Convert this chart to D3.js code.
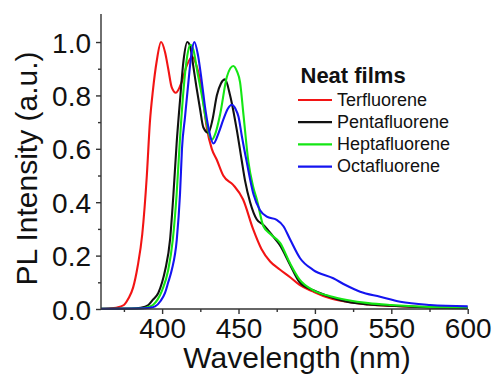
<!DOCTYPE html>
<html><head><meta charset="utf-8">
<script src="https://cdn.jsdelivr.net/npm/d3@7"></script>
<style>body{margin:0;background:#fff}svg{display:block}</style>
</head><body>
<svg id="c" width="498" height="381"></svg>
<script>
const seriesNames = ["Terfluorene","Pentafluorene","Heptafluorene","Octafluorene"];
const seriesColors = ["#f21414","#111111","#14e614","#1414f0"];
const terWl = [360,365,370,375,378,381,384,387,390,392,394,396.5,399.3,402,404,406.3,409,412.8,416,419.8,422.6,426,429.2,432.5,435.7,440,446.5,453,459.5,465,470.7,477,484,490,499,510,520,530,545,560,580,600];
const terPL = [0,0.002,0.005,0.015,0.04,0.08,0.16,0.28,0.5,0.7,0.82,0.93,1.0,0.96,0.9,0.83,0.81,0.85,0.91,0.945,0.91,0.82,0.68,0.6,0.56,0.5,0.465,0.41,0.3,0.225,0.178,0.148,0.118,0.09,0.065,0.04,0.028,0.02,0.013,0.01,0.006,0.005];
const pentaWl = [360,380,386,391,394,397.5,400,402,405.2,407.4,409.5,411.7,414,416.5,418.5,420.4,422.5,424.8,427,430.3,433,435.8,438.5,441.2,444.5,448.9,452,454.3,457.6,462,466.3,472.9,477,483.8,490,499,510,521,535,550,575,600];
const pentaPL = [0.001,0.002,0.005,0.015,0.035,0.06,0.1,0.146,0.26,0.43,0.62,0.78,0.93,1.0,0.98,0.91,0.83,0.75,0.68,0.66,0.71,0.8,0.845,0.86,0.8,0.67,0.56,0.48,0.4,0.335,0.315,0.27,0.24,0.165,0.1,0.07,0.045,0.027,0.017,0.012,0.006,0.003];
const heptaWl = [360,385,390,394,397,400,404,407,409.5,411.5,414,416.5,418.5,420.5,423,426,429,432.5,435,438,442.4,446.6,449,451,453.2,456.5,459.5,462,466.3,471,477.2,483.8,490,499,510,521,535,550,575,600];
const heptaPL = [0.001,0.002,0.006,0.015,0.035,0.07,0.146,0.26,0.43,0.62,0.82,0.95,0.99,0.97,0.89,0.8,0.7,0.634,0.66,0.73,0.87,0.91,0.89,0.85,0.73,0.55,0.46,0.41,0.31,0.28,0.248,0.17,0.11,0.07,0.048,0.034,0.022,0.015,0.008,0.005];
const octaWl = [360,385,392,395.4,399,401.9,404,406.3,409.6,411.7,413,415,417.2,419.3,421.1,423.5,426,428,430.3,433.6,437,440.1,443,445.6,448,450,452.1,455.4,459.8,464.1,468.5,475,479.4,483.8,490.3,499,512,520,529.6,542.7,555.8,575.5,600];
const octaPL = [0.001,0.002,0.005,0.01,0.03,0.06,0.1,0.146,0.26,0.43,0.6,0.72,0.85,0.96,1.0,0.95,0.85,0.76,0.68,0.62,0.66,0.71,0.75,0.765,0.75,0.72,0.65,0.55,0.43,0.37,0.346,0.334,0.31,0.26,0.19,0.146,0.115,0.09,0.065,0.046,0.027,0.015,0.01];
const xTicks = [400,450,500,550,600];
const yTicks = [0,0.2,0.4,0.6,0.8,1.0];
const legendTitle = "Neat films";
const xTitle = "Wavelength (nm)";
const yTitle = "PL Intensity (a.u.)";

const wls = [terWl,pentaWl,heptaWl,octaWl];
const pls = [terPL,pentaPL,heptaPL,octaPL];

const svg = d3.select("#c");
const L=101, R=467.7, T=14, B=309;
const x = d3.scaleLinear().domain([360,600]).range([L,R]);
const y = d3.scaleLinear().domain([0,1.105]).range([B,T]);
const font = "Liberation Sans, Arial, sans-serif";
const axisColor = "#333";

// curves
const line = d3.line().x(d=>x(d[0])).y(d=>y(d[1])).curve(d3.curveMonotoneX);
wls.forEach((w,i)=>{
  const data = w.map((v,j)=>[v,pls[i][j]]);
  svg.append("path").attr("d",line(data)).attr("fill","none")
    .attr("stroke",seriesColors[i]).attr("stroke-width",2.1).attr("stroke-linejoin","round");
});

// x axis
const xa = svg.append("g").attr("transform",`translate(0,${B})`);
xa.call(d3.axisBottom(x).tickValues(d3.range(375,601,25)).tickSize(3).tickFormat(""));
xa.call(g=>g.selectAll(".tick").filter(d=>xTicks.includes(d)).select("line").attr("y2",5));
xa.selectAll(".tick").filter(d=>xTicks.includes(d)).append("text")
  .attr("y",29).attr("fill","#111").attr("text-anchor","middle")
  .style("font-family",font).style("font-size","28px").text(d=>d);
xa.select(".domain").attr("d",`M${L},0H${R}`);
// y axis
const ya = svg.append("g").attr("transform",`translate(${L},0)`);
ya.call(d3.axisLeft(y).tickValues(d3.range(0,1.05,0.1).map(v=>+v.toFixed(1))).tickSize(3).tickFormat(""));
ya.call(g=>g.selectAll(".tick").filter(d=>yTicks.some(t=>Math.abs(t-d)<1e-6)).select("line").attr("x2",-5));
ya.selectAll(".tick").filter(d=>yTicks.some(t=>Math.abs(t-d)<1e-6)).append("text")
  .attr("x",-10).attr("dy","0.36em").attr("fill","#111").attr("text-anchor","end")
  .style("font-family",font).style("font-size","28px").text(d=>d3.format(".1f")(d));
ya.select(".domain").attr("d",`M0,${T}V${B}`);
svg.selectAll(".domain,.tick line").attr("stroke",axisColor).attr("stroke-width",1.4);
svg.selectAll(".tick text").attr("font-size",null);

// titles
svg.append("text").attr("x",297).attr("y",368).attr("text-anchor","middle")
  .style("font-family",font).style("font-size","30px").attr("fill","#111").text(xTitle);
svg.append("text").attr("transform",`translate(37,168.5) rotate(-90)`).attr("text-anchor","middle")
  .style("font-family",font).style("font-size","30px").attr("fill","#111").text(yTitle);

// legend
svg.append("text").attr("x",300.5).attr("y",82.7).style("font-family",font)
  .style("font-size","22px").style("font-weight","bold").attr("fill","#111").text(legendTitle);
seriesNames.forEach((n,i)=>{
  const yy = 100 + i*22.2;
  svg.append("line").attr("x1",298).attr("x2",332).attr("y1",yy).attr("y2",yy)
    .attr("stroke",seriesColors[i]).attr("stroke-width",2.2);
  svg.append("text").attr("x",337).attr("y",yy+5.5).style("font-family",font)
    .style("font-size","18px").attr("fill","#111").text(n);
});
</script>
</body></html>
